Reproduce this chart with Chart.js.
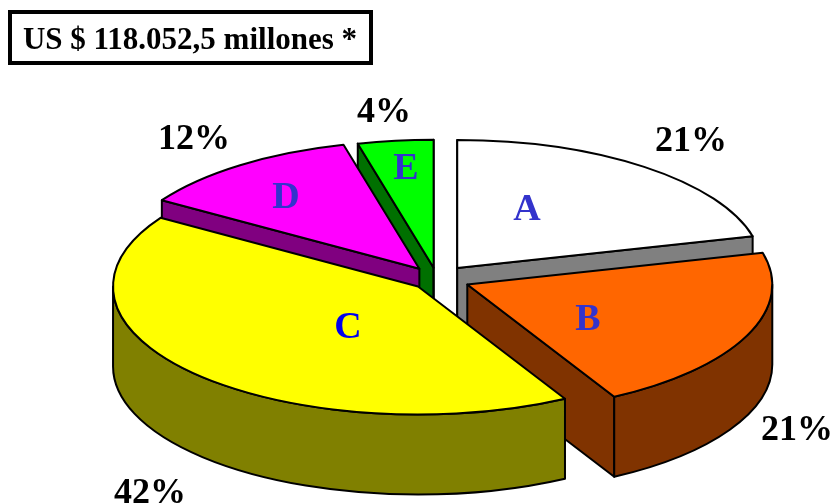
<!DOCTYPE html>
<html>
<head>
<meta charset="utf-8">
<style>
  html, body { margin: 0; padding: 0; background: #fff; }
  #wrap { width: 836px; height: 504px; }
</style>
<script src="https://cdn.jsdelivr.net/npm/chart.js@4"></script>
</head>
<body>
<div id="wrap"><canvas id="pie" width="836" height="504"></canvas></div>
<script>
const categories = ["A", "B", "C", "D", "E"];
const shares = [21, 21, 42, 12, 4];
const heading = "US $ 118.052,5 millones *";

const topColors = ["#ffffff", "#ff6600", "#ffff00", "#ff00ff", "#00ff00"];
const wallColors = ["#808080", "#803300", "#808000", "#800080", "#007000"];
const letterColors = ["#3333cc", "#3333cc", "#0000ee", "#3333cc", "#3333cc"];
const explode = [33, 33, 26, 30, 27];
// back to front
const paintOrder = [0, 4, 3, 1, 2];

const squash = 0.42;
const depth = 80;
const radius = 305;

// text spots, [x, y] baseline centre
const letterSpots = [[527, 220], [588, 330], [348, 338], [286, 208], [406, 179]];
const percentSpots = [[691, 151], [797, 440], [150, 503], [194, 149], [384, 122]];

function pieFaces(ctx, arc, i) {
  const mid = (arc.startAngle + arc.endAngle) / 2;
  const off = explode[i];
  const cx = arc.x + Math.cos(mid) * off;
  const cy = arc.y + Math.sin(mid) * off * squash;
  const R = arc.outerRadius;
  const ry = R * squash;
  const at = a => [cx + Math.cos(a) * R, cy + Math.sin(a) * ry];

  ctx.save();
  ctx.fillStyle = wallColors[i];
  ctx.strokeStyle = "#000";
  ctx.lineWidth = 2;
  ctx.lineJoin = "round";

  // flat cut faces, skipping the ones turned away from the viewer
  const cuts = [];
  if (Math.cos(arc.startAngle) < 0.001) cuts.push(arc.startAngle);
  if (Math.cos(arc.endAngle) > -0.001) cuts.push(arc.endAngle);
  cuts.forEach(a => {
    const p = at(a);
    ctx.beginPath();
    ctx.moveTo(cx, cy);
    ctx.lineTo(p[0], p[1]);
    ctx.lineTo(p[0], p[1] + depth);
    ctx.lineTo(cx, cy + depth);
    ctx.closePath();
    ctx.fill();
    ctx.stroke();
  });

  // rim, only the part facing the viewer
  const from = Math.max(arc.startAngle, 0);
  const to = Math.min(arc.endAngle, Math.PI);
  if (to > from) {
    ctx.beginPath();
    ctx.ellipse(cx, cy, R, ry, 0, from, to);
    ctx.ellipse(cx, cy + depth, R, ry, 0, to, from, true);
    ctx.closePath();
    ctx.fill();
    ctx.stroke();
  }

  // top, filled by the element itself under the squash
  ctx.save();
  ctx.translate(cx, cy);
  ctx.scale(1, squash);
  ctx.translate(-arc.x, -arc.y);
  arc.draw(ctx);
  ctx.restore();

  ctx.beginPath();
  ctx.moveTo(cx, cy);
  ctx.ellipse(cx, cy, R, ry, 0, arc.startAngle, arc.endAngle);
  ctx.closePath();
  ctx.stroke();
  ctx.restore();
}

const pie3d = {
  id: "pie3d",
  beforeDatasetsDraw(chart) {
    const arcs = chart.getDatasetMeta(0).data;
    paintOrder.forEach(i => pieFaces(chart.ctx, arcs[i], i));
    return false;
  },
  afterDraw(chart) {
    const ctx = chart.ctx;
    ctx.save();
    ctx.textAlign = "center";
    ctx.textBaseline = "alphabetic";

    ctx.font = "bold 38px 'Liberation Serif'";
    categories.forEach((c, i) => {
      ctx.fillStyle = letterColors[i];
      ctx.fillText(c, letterSpots[i][0], letterSpots[i][1]);
    });

    ctx.font = "bold 36px 'Liberation Serif'";
    ctx.fillStyle = "#000";
    shares.forEach((s, i) => ctx.fillText(s + "%", percentSpots[i][0], percentSpots[i][1]));

    // boxed total
    ctx.lineWidth = 4;
    ctx.strokeStyle = "#000";
    ctx.strokeRect(10, 12, 361, 51);
    ctx.font = "bold 31px 'Liberation Serif'";
    ctx.fillText(heading, 190, 49);
    ctx.restore();
  }
};

new Chart(document.getElementById("pie"), {
  type: "pie",
  data: {
    labels: categories,
    datasets: [{
      data: shares,
      backgroundColor: topColors,
      borderWidth: 0
    }]
  },
  options: {
    responsive: false,
    animation: false,
    radius: radius,
    // centre of the pie sits at (437, 279)
    layout: { padding: { left: 38, right: 0, top: 54, bottom: 0 } },
    events: [],
    plugins: {
      legend: { display: false },
      tooltip: { enabled: false }
    }
  },
  plugins: [pie3d]
});
</script>
</body>
</html>
